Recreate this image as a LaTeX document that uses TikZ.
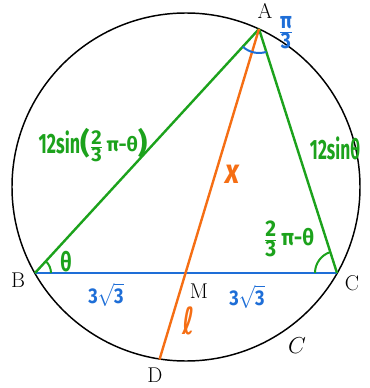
\documentclass[tikz,border=0pt]{standalone}
\usepackage{fontspec}
\usepackage{graphicx}
\newfontfamily\hand{Fira Sans}
\newfontfamily\dejav{DejaVu Sans}
\definecolor{gr}{RGB}{28,162,28}
\definecolor{bl}{RGB}{30,110,215}
\definecolor{orng}{RGB}{245,110,20}
\newcommand\hwt[1]{\mbox{\hand\bfseries #1}}
\begin{document}
\begin{tikzpicture}[x=0.75pt,y=-0.75pt,
  circ/.style={draw=black,line width=1.1pt},
  gline/.style={draw=gr,line width=1.8pt},
  bline/.style={draw=bl,line width=2pt},
  oline/.style={draw=orng,line width=1.8pt},
  garc/.style={draw=gr,line width=1.5pt},
  barc/.style={draw=bl,line width=1.5pt},
  ptlabel/.style={font=\fontsize{16}{18}\selectfont,inner sep=0pt},
  glab/.style={text=gr,inner sep=0pt},
  blab/.style={text=bl,inner sep=0pt},
  olab/.style={text=orng,inner sep=0pt}]
\useasboundingbox (0,0) rectangle (370,388);
\coordinate (O) at (186,187);
\coordinate (A) at (259,29);
\coordinate (B) at (35,273);
\coordinate (C) at (337,273);
\coordinate (M) at (186,273);
\coordinate (D) at (159.5,359.5);
\draw[circ] (O) circle[radius=174];
\draw[bline] (B) -- (C);
\draw[gline] (A) -- (B);
\draw[gline] (A) -- (C);
\draw[oline] (A) -- (D);
\draw[garc] (B) ++(0:16) arc[start angle=0,end angle=-47.4,radius=16];
\draw[garc] (C) ++(180:22) arc[start angle=180,end angle=252.3,radius=22];
\draw[barc] (A) ++(72.3:24) arc[start angle=72.3,end angle=132.6,radius=24];
% point labels
\node[ptlabel] (lA) at (265,11) {A};
\node[ptlabel] (lB) at (18,280) {B};
\node[ptlabel] (lC) at (352,283) {C};
\node[ptlabel] (lM) at (199,291) {M};
\node[ptlabel] (lD) at (155,375) {D};
\node[ptlabel] (lcirc) at (297,346) {$C$};
% handwritten labels
\node[blab] (pi3) at (286,33) {\fontsize{17}{19}\selectfont\scalebox{0.85}[1]{$\frac{\hwt{π}}{\hwt{3}}$}};
\node[glab] (thB) at (66,262) {\fontsize{20}{22}\selectfont\scalebox{0.75}[1]{\hwt{θ}}};
\node[glab] (thC) at (289,239) {\fontsize{17}{20}\selectfont\scalebox{0.92}[1]{$\frac{\hwt{2}}{\hwt{3}}\,$\hwt{π-θ}}};
\node[glab] (sinAB) at (93,145) {\scalebox{0.64}[1]{\fontsize{21}{24}\selectfont\hwt{12sin}}\fontsize{22}{24}\selectfont\hwt{(}$\vcenter{\hbox{\fontsize{15}{17}\selectfont$\frac{\hwt{2}}{\hwt{3}}\,$\hwt{π-θ}}}$\hwt{)}};
\node[glab] (sinAC) at (335,148) {\fontsize{21}{24}\selectfont\scalebox{0.62}[1]{\hwt{12sinθ}}};
\node[olab] (lx) at (232,174) {\fontsize{26}{28}\selectfont\scalebox{0.8}[1]{\mbox{\hand\bfseries\itshape x}}};
\node[olab] (lell) at (189,321) {\fontsize{28}{30}\selectfont\scalebox{0.7}[1]{\mbox{\dejav\bfseries ℓ}}};
\node[blab] (s1) at (106,295) {\fontsize{16}{18}\selectfont\scalebox{0.85}[1]{\hwt{3}$\sqrt{\hwt{3}}$}};
\node[blab] (s2) at (247,297) {\fontsize{16}{18}\selectfont\scalebox{0.85}[1]{\hwt{3}$\sqrt{\hwt{3}}$}};
\end{tikzpicture}
\end{document}
